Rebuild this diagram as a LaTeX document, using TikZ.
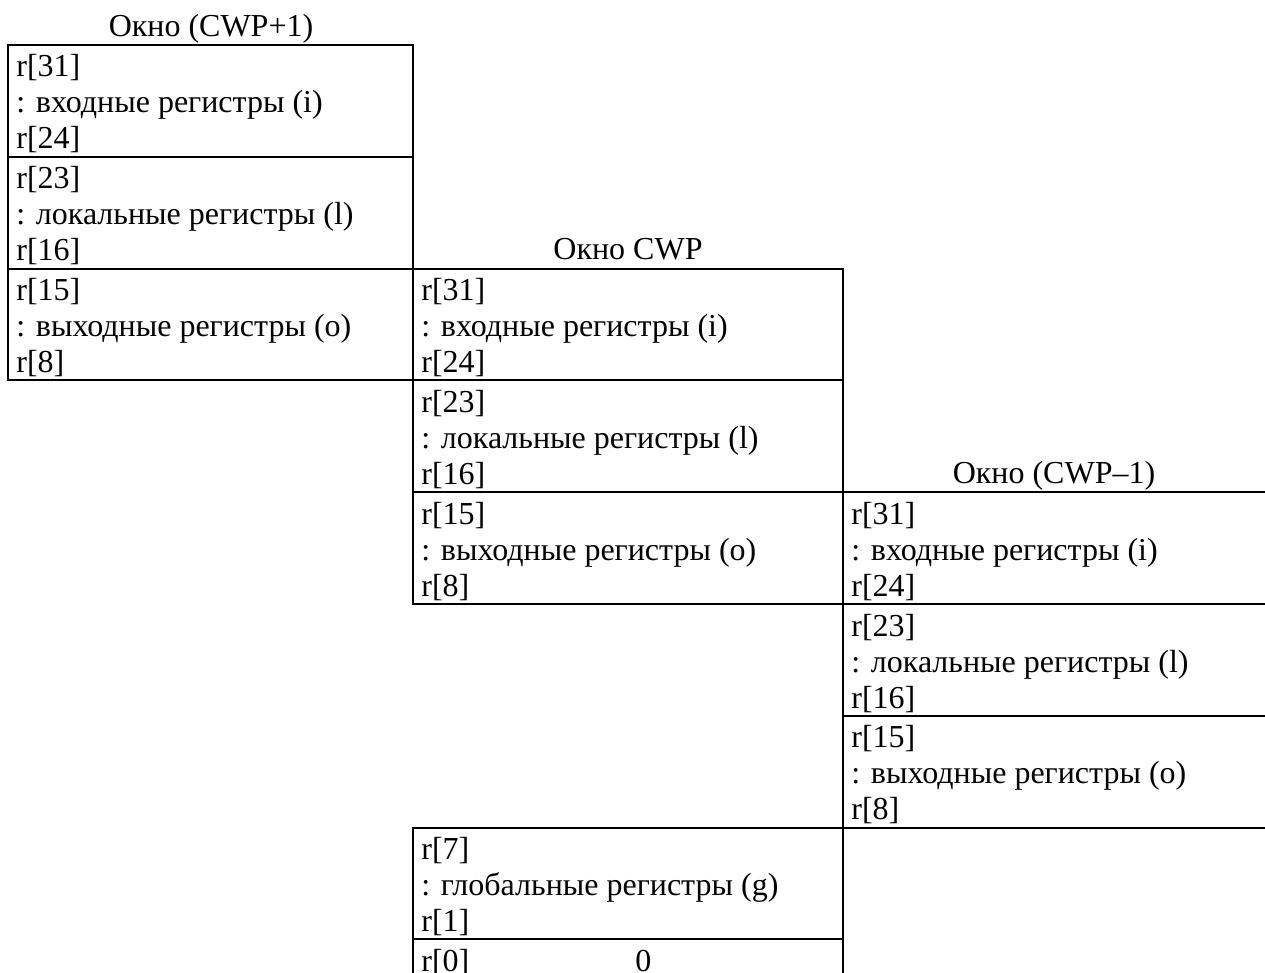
\documentclass[tikz,border=0pt]{standalone}
\usepackage{fontspec}
\setmainfont{Liberation Serif}
\usetikzlibrary{positioning}

\begin{document}
\begin{tikzpicture}[x=0.5pt, y=-0.5pt,
    rline/.style={anchor=base west, inner sep=0pt, font=\fontsize{16}{18}\selectfont},
    wtitle/.style={anchor=base, inner sep=0pt, font=\fontsize{16}{18}\selectfont},
    frame/.style={line width=1pt, line cap=rect}]

  \useasboundingbox (0,0) rectangle (1265,973);

  % window titles
  \node[wtitle] (t1) at (211,37) {Окно (CWP+1)};
  \node[wtitle] (t2) at (628,260) {Окно CWP};
  \node[wtitle] (t3) at (1054,484) {Окно (CWP–1)};

  % register windows
  \foreach \w/\xo/\k in {1/8/0, 2/413/2, 3/843/4}
    \foreach \hi/\lo/\kind [count=\j from 0] in {31/24/входные регистры (i), 23/16/локальные регистры (l), 15/8/выходные регистры (o)} {
      \pgfmathsetmacro\yo{45+111.8*(\k+\j)}
      \node[rline] (w\w-\j-a) at (\xo+8,\yo+32) {r[\hi]};
      \node[rline] (w\w-\j-b) at (\xo+8,\yo+68) {: \kind};
      \node[rline] (w\w-\j-c) at (\xo+8,\yo+104) {r[\lo]};
    }

  % global registers
  \pgfmathsetmacro\yg{45+111.8*7}
  \node[rline] (g-a) at (421,\yg+32) {r[7]};
  \node[rline] (g-b) at (421,\yg+68) {: глобальные регистры (g)};
  \node[rline] (g-c) at (421,\yg+104) {r[1]};
  \node[rline] (z-a) at (421,\yg+143.8) {r[0]};
  \node[rline] (z-b) at (635,\yg+143.8) {0};

  % frames
  \foreach \k/\xa/\xb in {0/8/413, 1/8/413, 2/8/843, 3/8/843, 4/413/1265,
                          5/413/1265, 6/843/1265, 7/413/1265, 8/413/843}
    \draw[frame] (\xa,45+111.8*\k) -- (\xb,45+111.8*\k);
  \draw[frame] (8,45) -- (8,{45+111.8*3});
  \draw[frame] (413,45) -- (413,{45+111.8*5});
  \draw[frame] (413,{45+111.8*7}) -- (413,973);
  \draw[frame] (843,{45+111.8*2}) -- (843,973);
\end{tikzpicture}
\end{document}
